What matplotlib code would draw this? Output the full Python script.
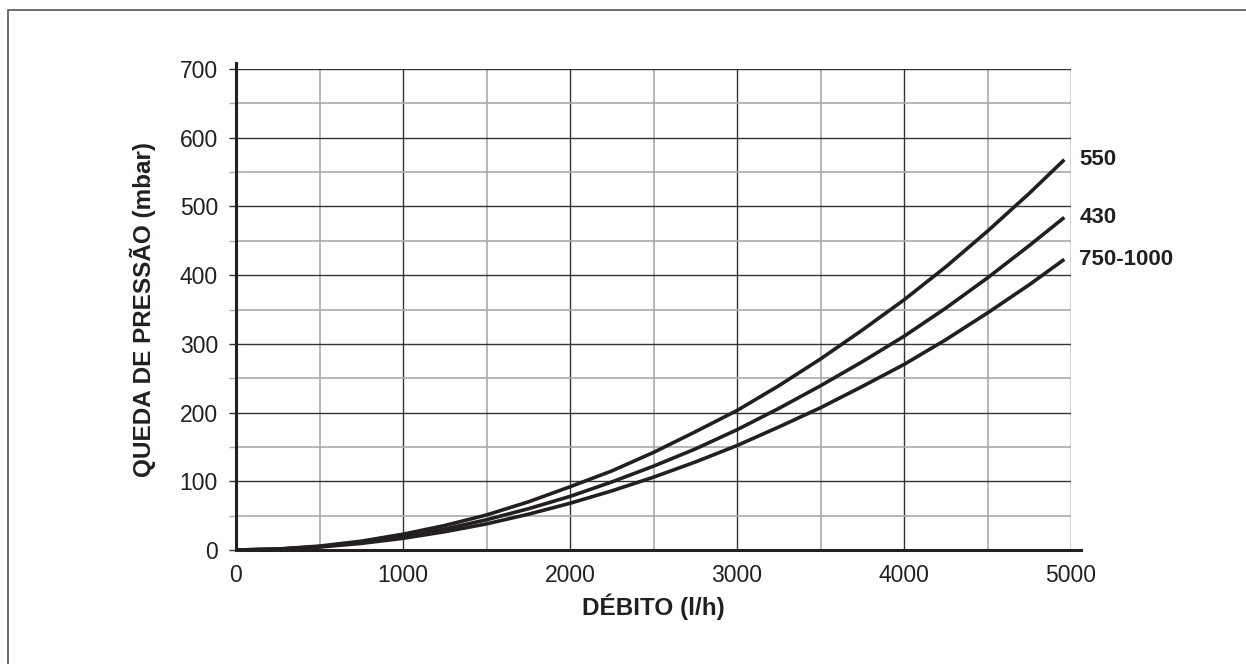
import matplotlib
matplotlib.use("Agg")
import matplotlib.pyplot as plt
from matplotlib.patches import Rectangle
from matplotlib.ticker import MultipleLocator

plt.rcParams['font.family'] = ['Liberation Sans', 'DejaVu Sans']

# flow (l/h) and pressure drop (mbar)
flow = [0, 250, 500, 750, 1000, 1250, 1500, 1750, 2000, 2250, 2500,
        2750, 3000, 3250, 3500, 3750, 4000, 4250, 4500, 4750, 4960]
drop_550 = [0, 1.4, 5.7, 12.8, 23, 35.6, 51, 70, 92, 115, 142,
            172, 203, 239, 278, 320, 364, 412, 464, 519, 568]
drop_430 = [0, 1.2, 4.9, 11, 19.5, 30.5, 44, 60, 78, 99, 122,
            147, 175, 206, 239, 274, 311, 352, 396, 443, 484]
drop_750 = [0, 1.1, 4.3, 9.6, 17, 26.6, 38, 52, 68, 86, 106,
            128, 152, 179, 207, 238, 270, 306, 345, 386, 423]
series = [("550", drop_550), ("430", drop_430), ("750-1000", drop_750)]

ink = "#231f20"

fig = plt.figure(figsize=(12.46, 6.64), dpi=100)
ax = fig.add_axes([236/1246, 114/664, 835/1246, 481/664])

for name, vals in series:
    ax.plot(flow, vals, color=ink, lw=2.6, solid_capstyle="butt", zorder=3)
    ax.text(5050, vals[-1], name, fontsize=16, fontweight="bold",
            color=ink, va="center", ha="left")

ax.set_xlim(0, 5000)
ax.set_ylim(0, 700)
ax.xaxis.set_major_locator(MultipleLocator(1000))
ax.xaxis.set_minor_locator(MultipleLocator(500))
ax.yaxis.set_major_locator(MultipleLocator(100))
ax.yaxis.set_minor_locator(MultipleLocator(50))

ax.grid(which="major", color="#333333", lw=1.0)
ax.grid(which="minor", color="#aaaaaa", lw=1.2)
ax.set_axisbelow(True)

for s in ["top", "right"]:
    ax.spines[s].set_visible(False)
ax.spines["left"].set_linewidth(2.2)
ax.spines["bottom"].set_linewidth(2.2)
ax.spines["left"].set_color(ink)
ax.spines["bottom"].set_color(ink)
ax.spines["left"].set_bounds(0, 709)
ax.spines["bottom"].set_bounds(0, 5060)

ax.tick_params(axis="y", which="major", direction="out", length=5,
               width=1.0, color="#333333", labelsize=16.5, labelcolor=ink, pad=8)
ax.tick_params(axis="y", which="minor", direction="out", length=5,
               width=1.0, color="#aaaaaa")
ax.tick_params(axis="x", which="both", direction="out", length=0,
               labelsize=16.5, labelcolor=ink, pad=10)

ax.set_xlabel("DÉBITO (l/h)", fontsize=17.5, fontweight="bold", color=ink, labelpad=5)
ax.set_ylabel("QUEDA DE PRESSÃO (mbar)", fontsize=17.5, fontweight="bold",
              color=ink, labelpad=17)

# frame round the figure (right and bottom fall outside the image)
fig.patches.append(Rectangle((8/1246, -0.5), 2.0, (664 - 10)/664 + 0.5,
                             transform=fig.transFigure, fill=False,
                             edgecolor="#555555", lw=1.2))

fig.savefig("out.png", dpi=100)
